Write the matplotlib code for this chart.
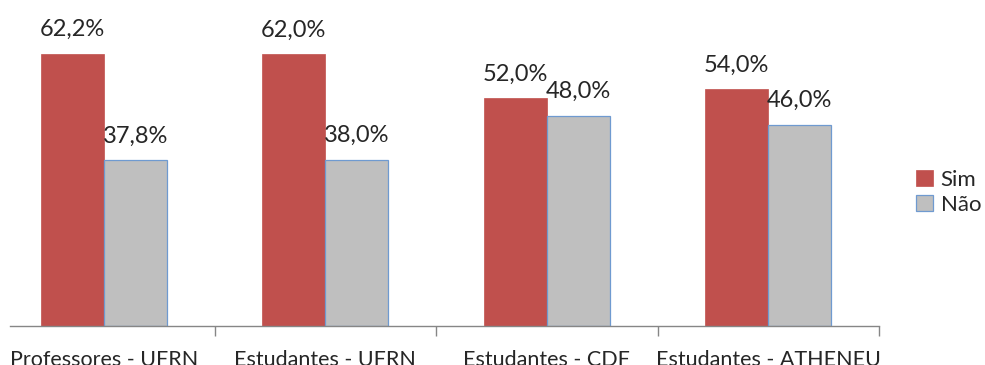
import matplotlib
matplotlib.use("Agg")
import matplotlib.pyplot as plt
import numpy as np

categories = ["Professores - UFRN", "Estudantes - UFRN", "Estudantes - CDF", "Estudantes - ATHENEU"]
sim = [62.2, 62.0, 52.0, 54.0]
nao = [37.8, 38.0, 48.0, 46.0]
sim_labels = ["62,2%", "62,0%", "52,0%", "54,0%"]
nao_labels = ["37,8%", "38,0%", "48,0%", "46,0%"]

plt.rcParams['font.family'] = ['Lato', 'DejaVu Sans']

W, H = 985, 365
fig = plt.figure(figsize=(W/100, H/100), dpi=100)
left_px, right_px, base_px = 10, 879, 326
px_per_pct = 4.38
top_px = base_px - 70 * px_per_pct
ax = fig.add_axes([left_px/W, (H-base_px)/H, (right_px-left_px)/W, (base_px-top_px)/H])

x = np.arange(len(categories))
bw = 0.285
b1 = ax.bar(x - bw/2, sim, bw, color="#C0504D", edgecolor="#C0504D", linewidth=0.5)
b2 = ax.bar(x + bw/2, nao, bw, color="#BFBFBF", edgecolor="#6F9AD0", linewidth=0.9)

fs = 17
for xi, v, t in zip(x - bw/2, sim, sim_labels):
    ax.annotate(t, (xi, v), xytext=(0, 10), textcoords="offset points",
                ha="center", va="bottom", fontsize=fs, color="#262626")
for xi, v, t in zip(x + bw/2, nao, nao_labels):
    ax.annotate(t, (xi, v), xytext=(0, 10), textcoords="offset points",
                ha="center", va="bottom", fontsize=fs, color="#262626")

ax.set_xlim((left_px - 104) / 222, (right_px - 104) / 222)
ax.set_ylim(0, 70)
for s in ["top", "right", "left"]:
    ax.spines[s].set_visible(False)
ax.spines["bottom"].set_color("#868686")
ax.spines["bottom"].set_linewidth(1.0)
ax.set_yticks([])
ax.set_xticks(x)
ax.set_xticklabels(categories, fontsize=15.5, color="#262626")
ax.tick_params(axis="x", which="major", length=0, pad=17)
ax.set_xticks(np.arange(len(categories)) + 0.5, minor=True)
ax.tick_params(axis="x", which="minor", length=7, color="#868686", width=1.0)

leg = fig.legend([b1, b2], ["Sim", "Não"], loc="upper left",
                 bbox_to_anchor=(905/W, 1 - 159/H), frameon=False,
                 fontsize=16, handlelength=0.75, handleheight=0.75,
                 handletextpad=0.35, labelspacing=0.2, borderpad=0)
for t in leg.get_texts():
    t.set_color("#262626")

fig.savefig("out.png", dpi=100)
